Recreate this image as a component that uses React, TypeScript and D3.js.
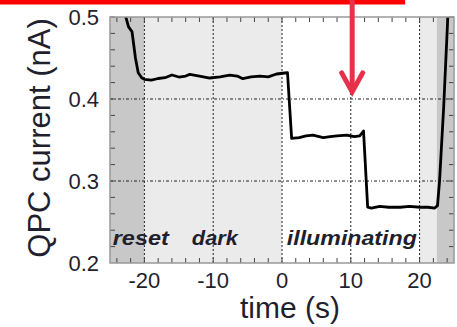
import React from "react";
import * as d3 from "d3";

const timeS = [-22.7, -22.3, -21.8, -21.3, -20.9, -20.4, -20, -19, -18, -17, -16, -15, -14, -13.4, -12, -10.5, -9, -7.6, -6.5, -5.7, -4.5, -3.2, -2, -0.8, 0.4, 0.8, 1.4, 2.5, 3.5, 4.5, 6, 7, 8, 9.4, 10.5, 11.3, 11.85, 12.45, 13, 14.2, 15.5, 17.2, 18.5, 20.1, 21.2, 22.2, 22.6, 22.9, 23.5, 24.1];
const currentNA = [0.5, 0.488, 0.482, 0.45, 0.432, 0.426, 0.424, 0.423, 0.425, 0.426, 0.4293, 0.4268, 0.428, 0.430, 0.428, 0.4256, 0.427, 0.429, 0.428, 0.4248, 0.427, 0.428, 0.427, 0.4305, 0.4317, 0.432, 0.352, 0.353, 0.355, 0.356, 0.353, 0.354, 0.355, 0.356, 0.354, 0.355, 0.361, 0.268, 0.267, 0.269, 0.268, 0.268, 0.269, 0.268, 0.268, 0.267, 0.27, 0.30, 0.39, 0.5];

const xTicks = [-20, -10, 0, 10, 20];
const yTicks = [0.2, 0.3, 0.4, 0.5];
const yGrid = [0.3, 0.4];
const phaseBounds = [-25, -20, 0, 20, 22.5, 25];
const phaseLabels = ["reset", "dark", "illuminating"];
const phaseLabelT = [-24.6, -13.1, 0.7];
const phaseLabelV = 0.222;
const arrowT = 10.2;
const arrowTipV = 0.405;
const redBarEndT = 17.9;

const phaseFills = ["#c8c8c8", "#ebebeb", "#ffffff", "#ebebeb", "#c8c8c8"];
const phaseLabelWidths = [56, 46, 130];

export default function App() {
  const W = 457, H = 327;
  const left = 110, right = 454, top = 17, bottom = 263;
  const x = d3.scaleLinear().domain([-25, 25]).range([left, right]);
  const y = d3.scaleLinear().domain([0.2, 0.5]).range([bottom, top]);
  const line = d3.line<number>().x((_, i) => x(timeS[i])).y((d) => y(d));
  const minorX = d3.range(-24, 25, 2);
  const minorY = d3.range(0.22, 0.5, 0.02);
  const textColor = "#1f1f2e";
  const font = "'Liberation Sans', Arial, Helvetica, sans-serif";
  const ax = x(arrowT);
  const tipY = y(arrowTipV);
  return (
    <svg width={W} height={H} style={{ position: "absolute", left: 0, top: 0, background: "#fff" }}>
      <defs>
        <clipPath id="plot">
          <rect x={left} y={top} width={right - left} height={bottom - top} />
        </clipPath>
      </defs>
      {phaseFills.map((f, i) => (
        <rect key={i} x={x(phaseBounds[i])} y={top} width={x(phaseBounds[i + 1]) - x(phaseBounds[i])} height={bottom - top} fill={f} />
      ))}
      {xTicks.map((t) => (
        <line key={t} x1={x(t)} x2={x(t)} y1={top} y2={bottom} stroke="#222" strokeWidth={1} strokeDasharray="2,2" />
      ))}
      {yGrid.map((v) => (
        <line key={v} x1={left} x2={right} y1={y(v)} y2={y(v)} stroke="#222" strokeWidth={1} strokeDasharray="3,2,1,2" />
      ))}
      {minorX.map((t) => (
        <g key={t}>
          <line x1={x(t)} x2={x(t)} y1={bottom} y2={bottom - 5} stroke="#444" strokeWidth={1} />
          <line x1={x(t)} x2={x(t)} y1={top} y2={top + 5} stroke="#444" strokeWidth={1} />
        </g>
      ))}
      {minorY.map((v, i) => (
        <g key={i}>
          <line x1={left} x2={left + 5} y1={y(v)} y2={y(v)} stroke="#444" strokeWidth={1} />
          <line x1={right} x2={right - 5} y1={y(v)} y2={y(v)} stroke="#444" strokeWidth={1} />
        </g>
      ))}
      <path d={line(currentNA) || ""} fill="none" stroke="#000" strokeWidth={2.8} strokeLinejoin="round" clipPath="url(#plot)" />
      <rect x={left} y={top} width={right - left} height={bottom - top} fill="none" stroke="#999" strokeWidth={1.5} />
      {phaseLabels.map((s, i) => (
        <text key={s} x={x(phaseLabelT[i])} y={y(phaseLabelV)} fontFamily={font} fontSize={21} fontStyle="italic" fontWeight="bold" fill={textColor} textLength={phaseLabelWidths[i]} lengthAdjust="spacingAndGlyphs">{s}</text>
      ))}
      {yTicks.map((v) => (
        <text key={v} x={99} y={y(v)} dy="0.36em" textAnchor="end" fontFamily={font} fontSize={22} fill={textColor}>{v.toFixed(1)}</text>
      ))}
      {xTicks.map((t) => (
        <text key={t} x={x(t)} y={288} textAnchor="middle" fontFamily={font} fontSize={22} fill={textColor}>{t}</text>
      ))}
      <text x={290} y={318} textAnchor="middle" fontFamily={font} fontSize={30} fill={textColor}>time (s)</text>
      <text transform={`translate(50,138) rotate(-90)`} textAnchor="middle" fontFamily={font} fontSize={31} fill={textColor}>QPC current (nA)</text>
      <rect x={0} y={-2} width={x(redBarEndT)} height={6.5} fill="#ff0000" />
      <line x1={ax} x2={ax} y1={0} y2={tipY - 3} stroke="#e8304a" strokeWidth={5} />
      <polyline points={`${ax - 10.5},${tipY - 22} ${ax},${tipY - 3} ${ax + 10.5},${tipY - 22}`} fill="none" stroke="#e8304a" strokeWidth={5} strokeLinecap="round" strokeLinejoin="miter" />
    </svg>
  );
}
